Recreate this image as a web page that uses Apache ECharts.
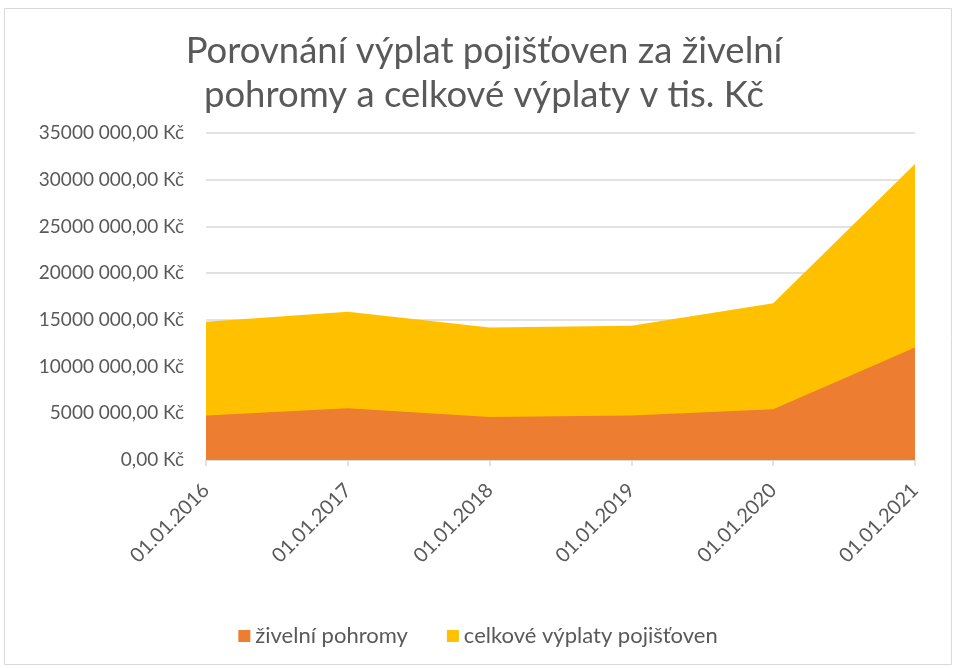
<!DOCTYPE html>
<html>
<head>
<meta charset="utf-8">
<script src="https://cdn.jsdelivr.net/npm/echarts@6/dist/echarts.min.js"></script>
<style>
  html, body { margin: 0; padding: 0; background: #fff; }
  #main { width: 956px; height: 668px; }
</style>
</head>
<body>
<div id="main"></div>
<script>
/* data */
var dates = ['01.01.2016', '01.01.2017', '01.01.2018', '01.01.2019', '01.01.2020', '01.01.2021'];
var zivelni = [4750000, 5540000, 4610000, 4750000, 5430000, 12040000];
var celkove = [14790000, 15860000, 14180000, 14360000, 16790000, 31680000];
var seriesNames = ['živelní pohromy', 'celkové výplaty pojišťoven'];

var textColor = '#595959';
var font = 'Lato';

/* "35000 000,00 Kč" */
function fmtKc(v) {
    if (v < 1000) return v + ',00 Kč';
    var rest = String(v % 1000);
    while (rest.length < 3) rest = '0' + rest;
    return Math.floor(v / 1000) + ' ' + rest + ',00 Kč';
}

var chart = echarts.init(document.getElementById('main'));
chart.setOption({
    animation: false,
    backgroundColor: '#fff',
    graphic: [{
        type: 'rect',
        shape: { x: 4.5, y: 8.5, width: 947, height: 656 },
        style: { fill: 'none', stroke: '#d9d9d9', lineWidth: 1 },
        silent: true
    }],
    title: {
        text: 'Porovnání výplat pojišťoven za živelní\npohromy a celkové výplaty v tis. Kč',
        left: 479,
        textAlign: 'center',
        top: 24,
        textStyle: { fontFamily: font, fontSize: 36.5, fontWeight: 'normal', color: textColor, lineHeight: 44 }
    },
    legend: {
        data: seriesNames,
        bottom: 16,
        left: 'center',
        padding: [5, 5, 5, 13],
        icon: 'rect',
        itemWidth: 12,
        itemHeight: 12,
        itemGap: 39,
        textStyle: { fontFamily: font, fontSize: 22, color: textColor }
    },
    grid: { left: 206, right: 41, top: 133, bottom: 208 },
    xAxis: {
        type: 'category',
        data: dates,
        boundaryGap: false,
        axisLine: { lineStyle: { color: '#d9d9d9', width: 1.5 } },
        axisTick: { show: true, length: 6, lineStyle: { color: '#d9d9d9', width: 1.5 } },
        axisLabel: { rotate: 45, fontFamily: font, fontSize: 20, color: textColor, margin: 27 }
    },
    yAxis: {
        type: 'value',
        min: 0,
        max: 35000000,
        interval: 5000000,
        axisLine: { show: false },
        axisTick: { show: false },
        splitLine: { lineStyle: { color: '#d9d9d9', width: 1.5 } },
        axisLabel: { fontFamily: font, fontSize: 19, color: textColor, margin: 22, formatter: fmtKc }
    },
    series: [
        {
            name: seriesNames[0],
            type: 'line',
            data: zivelni,
            z: 4,
            symbol: 'none',
            lineStyle: { width: 0 },
            itemStyle: { color: '#ed7d31' },
            areaStyle: { color: '#ed7d31', opacity: 1 }
        },
        {
            name: seriesNames[1],
            type: 'line',
            data: celkove,
            z: 3,
            symbol: 'none',
            lineStyle: { width: 0 },
            itemStyle: { color: '#ffc000' },
            areaStyle: { color: '#ffc000', opacity: 1 }
        }
    ]
});
</script>
</body>
</html>
